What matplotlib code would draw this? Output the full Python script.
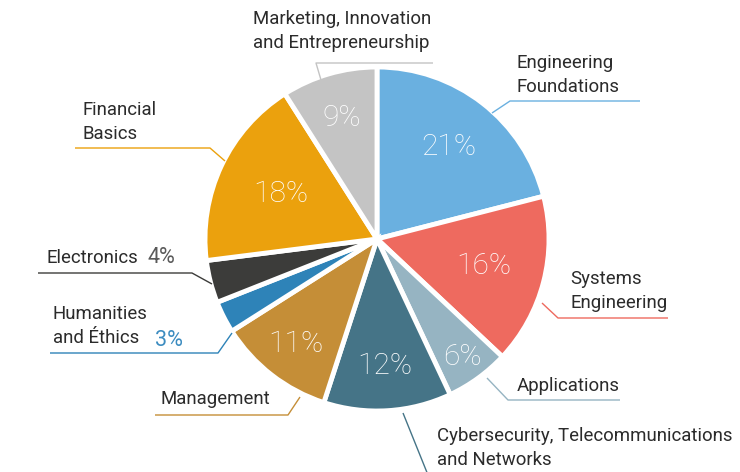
import matplotlib.pyplot as plt
import numpy as np

# slice data, clockwise from 12 o'clock
categories = ["Engineering\nFoundations", "Systems\nEngineering", "Applications",
              "Cybersecurity, Telecommunications\nand Networks", "Management",
              "Humanities\nand Éthics", "Electronics", "Financial\nBasics",
              "Marketing, Innovation\nand Entrepreneurship"]
shares = [21, 16, 6, 12, 11, 3, 4, 18, 9]
colors = ["#6AB0E0", "#EE6A5F", "#96B4C2", "#457487", "#C58E37",
          "#2E83B8", "#3C3C3A", "#EBA10D", "#C4C4C4"]

H = 472
def Y(y):
    return H - y

# where the percentage sits inside each slice (fraction of radius), None = outside
pct_r = [0.68, 0.64, 0.85, 0.74, 0.77, None, None, 0.62, 0.73]

# label text (left x, last-line baseline y) and leader polylines, in picture pixels
label_pos = [(517, 92), (570, 308), (517, 391), (437, 465), (160, 404),
             (53, 343), (47, 263), (83, 139), (253, 48)]
leaders = [
    [(492, 113), (510, 101), (640, 101)],
    [(542, 303), (558, 318), (668, 318)],
    [(487, 378), (508, 400), (620, 400)],
    [(403, 413), (428, 475)],
    [(300, 397), (288, 415), (155, 415)],
    [(232, 333), (218, 353), (50, 353)],
    [(212, 284), (192, 273), (38, 273)],
    [(225, 161), (210, 148), (75, 148)],
    [(321, 80), (316, 63), (433, 63)],
]
# outside percentages: (x, baseline y, colour)
outside_pct = {5: (155, 346, "#3C8CC0"), 6: (148, 263, "#5A5A5A")}

fig = plt.figure(figsize=(7.4, 4.72), dpi=100)
ax = fig.add_axes([0, 0, 1, 1])

cx, cy, R = 377, 239, 172
wedges, _ = ax.pie(shares, colors=colors, startangle=90, counterclock=False,
                   center=(cx, Y(cy)), radius=R,
                   wedgeprops=dict(edgecolor="white", linewidth=3.5))
ax.set_xlim(0, 740)
ax.set_ylim(0, H)
ax.set_aspect("equal")
ax.axis("off")

for i, w in enumerate(wedges):
    if pct_r[i] is not None:
        a = np.deg2rad((w.theta1 + w.theta2) / 2)
        ax.text(cx + R * pct_r[i] * np.cos(a), Y(cy) + R * pct_r[i] * np.sin(a),
                f"{shares[i]}%", color="white", fontsize=21.5, family="Roboto",
                fontweight="light", ha="center", va="center")
    x, y = label_pos[i]
    ax.text(x, Y(y), categories[i], fontsize=13.4, family="Roboto",
            color="#2B2B2B", ha="left", va="baseline", linespacing=1.4)
    pts = leaders[i]
    ax.plot([p[0] for p in pts], [Y(p[1]) for p in pts], color=colors[i],
            lw=1, solid_capstyle="butt")

for i, (x, y, c) in outside_pct.items():
    ax.text(x, Y(y), f"{shares[i]}%", fontsize=15.5, family="Roboto",
            fontweight="normal", color=c, ha="left", va="baseline")

fig.savefig("out.png", dpi=100)
